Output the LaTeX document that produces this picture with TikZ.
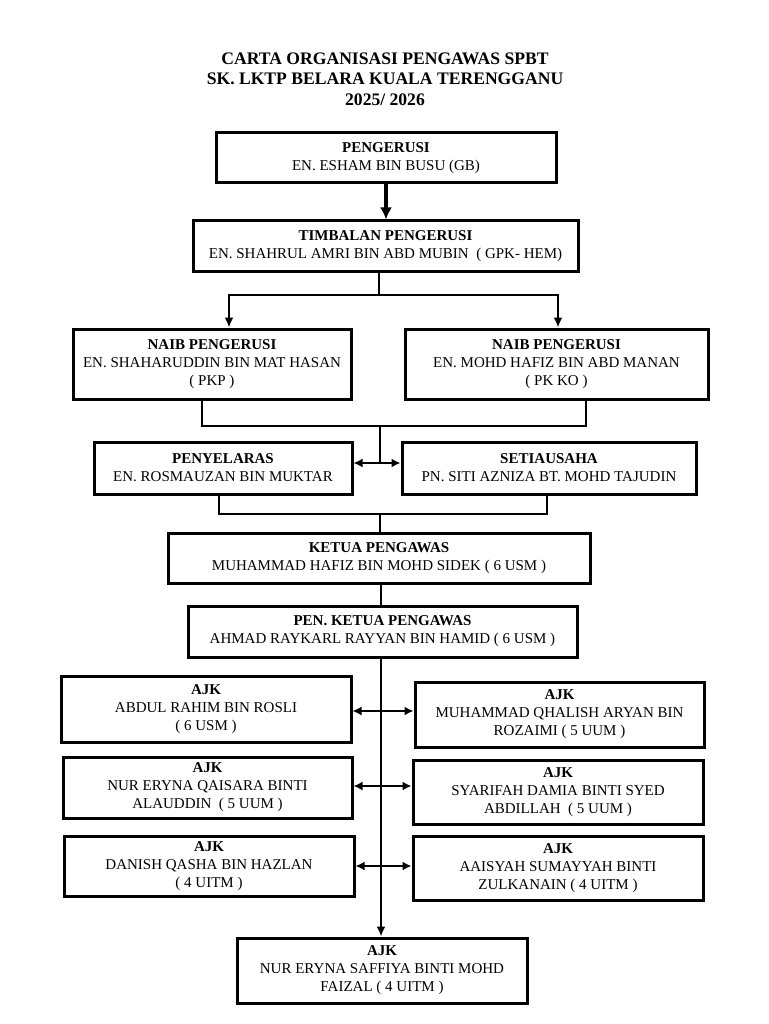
\documentclass[tikz,border=0pt]{standalone}
\usepackage{fontspec}
\setmainfont{Liberation Serif}
\usetikzlibrary{arrows.meta}
\begin{document}
\begin{tikzpicture}[x=1pt,y=-1pt,
  box/.style={draw, line width=3pt, align=center, inner sep=0pt, font=\fontsize{15}{18}\selectfont},
  ln/.style={line width=2.8pt},
  arr/.style={ln, -{Latex[length=10pt,width=9pt]}},
  bigarr/.style={line width=3.4pt, -{Latex[length=12pt,width=12pt]}},
  darr/.style={ln, {Latex[length=9pt,width=9pt]}-{Latex[length=9pt,width=9pt]}}]
\useasboundingbox (0,0) rectangle (768,1024);
\fill[white] (0,0) rectangle (768,1024);
% title
\node[align=center, font=\fontsize{17.6}{20.5}\selectfont\bfseries] (title) at (385,79)
  {CARTA ORGANISASI PENGAWAS SPBT\\SK. LKTP BELARA KUALA TERENGGANU\\2025/ 2026};
% boxes
\node[box, minimum width=340, minimum height=50] (b1) at (386,158) {\textbf{PENGERUSI}\\EN. ESHAM BIN BUSU (GB)};
\node[box, minimum width=385, minimum height=50] (b2) at (385.5,246) {\textbf{TIMBALAN PENGERUSI}\\EN. SHAHRUL AMRI BIN ABD MUBIN\ \ ( GPK- HEM)};
\node[box, minimum width=278, minimum height=70] (n1) at (212,364) {\textbf{NAIB PENGERUSI}\\EN. SHAHARUDDIN BIN MAT HASAN\\( PKP )};
\node[box, minimum width=303, minimum height=70] (n2) at (556.5,364) {\textbf{NAIB PENGERUSI}\\EN. MOHD HAFIZ BIN ABD MANAN\\( PK KO )};
\node[box, minimum width=258, minimum height=52] (p1) at (223,468) {\textbf{PENYELARAS}\\EN. ROSMAUZAN BIN MUKTAR};
\node[box, minimum width=294, minimum height=52] (p2) at (549,468) {\textbf{SETIAUSAHA}\\PN. SITI AZNIZA BT. MOHD TAJUDIN};
\node[box, minimum width=422, minimum height=50] (k1) at (379,558) {\textbf{KETUA PENGAWAS}\\MUHAMMAD HAFIZ BIN MOHD SIDEK ( 6 USM )};
\node[box, minimum width=389, minimum height=51] (k2) at (382.5,631.5) {\textbf{PEN. KETUA PENGAWAS}\\AHMAD RAYKARL RAYYAN BIN HAMID ( 6 USM )};
\node[box, minimum width=290, minimum height=66] (a1) at (206,709) {\textbf{AJK}\\ABDUL RAHIM BIN ROSLI\\( 6 USM )};
\node[box, minimum width=289, minimum height=65] (a2) at (559.5,714.5) {\textbf{AJK}\\MUHAMMAD QHALISH ARYAN BIN\\ROZAIMI ( 5 UUM )};
\node[box, minimum width=289, minimum height=61] (a3) at (207.5,787.5) {\textbf{AJK}\\NUR ERYNA QAISARA BINTI\\ALAUDDIN\ \ ( 5 UUM )};
\node[box, minimum width=290, minimum height=64] (a4) at (558,792) {\textbf{AJK}\\SYARIFAH DAMIA BINTI SYED\\ABDILLAH\ \ ( 5 UUM )};
\node[box, minimum width=290, minimum height=60] (a5) at (209,866) {\textbf{AJK}\\DANISH QASHA BIN HAZLAN\\( 4 UITM )};
\node[box, minimum width=290, minimum height=64] (a6) at (558,868) {\textbf{AJK}\\AAISYAH SUMAYYAH BINTI\\ZULKANAIN ( 4 UITM )};
\node[box, minimum width=290, minimum height=65] (a7) at (382,970.5) {\textbf{AJK}\\NUR ERYNA SAFFIYA BINTI MOHD\\FAIZAL ( 4 UITM )};
% junction coordinates
\coordinate (j1) at (379,295);
\coordinate (cl1) at (229,0);
\coordinate (cr1) at (558,0);
\coordinate (j2) at (380,426);
\coordinate (cl2) at (202,0);
\coordinate (cr2) at (586,0);
\coordinate (j3) at (380,463);
\coordinate (j4) at (380,514);
\coordinate (cl3) at (219,0);
\coordinate (cr3) at (547,0);
\coordinate (sp) at (381,0);
\coordinate (r1) at (0,711);
\coordinate (r2) at (0,786);
\coordinate (r3) at (0,866);
% connectors
\draw[bigarr] (b1.south) -- (b1.south |- b2.north);
\draw[ln] (b2.south -| j1) -- (j1);
\draw[arr] (j1) -| (cl1 |- n1.north);
\draw[arr] (j1) -| (cr1 |- n2.north);
\draw[ln] (cl2 |- n1.south) |- (j2) -| (cr2 |- n2.south);
\draw[ln] (j2) -- (j3);
\draw[darr] (p1.east |- j3) -- (p2.west |- j3);
\draw[ln] (cl3 |- p1.south) |- (j4) -| (cr3 |- p2.south);
\draw[ln] (j4) -- (j4 |- k1.north);
\draw[ln] (sp |- k1.south) -- (sp |- k2.north);
\draw[arr] (sp |- k2.south) -- (sp |- a7.north);
\draw[darr] (a1.east |- r1) -- (a2.west |- r1);
\draw[darr] (a3.east |- r2) -- (a4.west |- r2);
\draw[darr] (a5.east |- r3) -- (a6.west |- r3);
\end{tikzpicture}
\end{document}
